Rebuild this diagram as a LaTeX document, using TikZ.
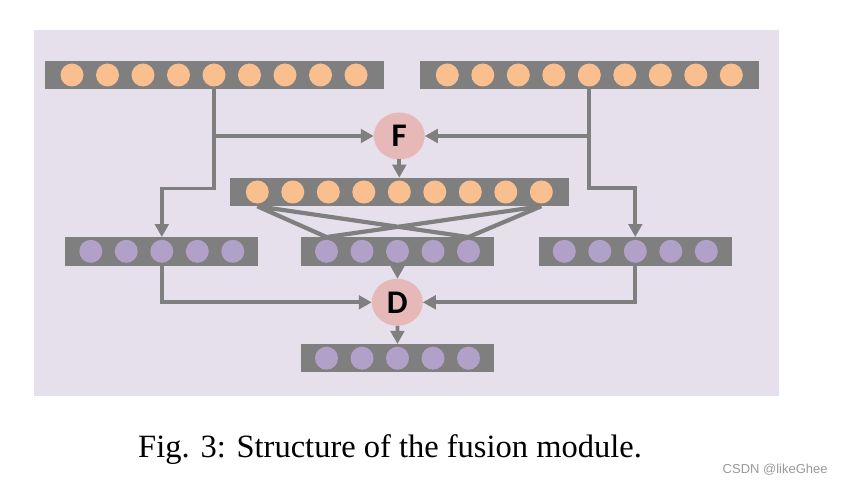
\documentclass[tikz,border=0pt]{standalone}
\usepackage{fontspec}
\setmainfont{Liberation Serif}
\newfontfamily\opfont{Carlito}
\newfontfamily\wmfont{Liberation Sans}
\usetikzlibrary{arrows.meta,positioning,shapes.geometric}
\definecolor{bgcol}{HTML}{E5E0EC}
\definecolor{barcol}{HTML}{7F7F7F}
\definecolor{orgcol}{HTML}{F9BF8F}
\definecolor{prpcol}{HTML}{B1A0C7}
\definecolor{opcol}{HTML}{E6B9B8}

\begin{document}
\begin{tikzpicture}[
x=1pt, y=-1pt,
node distance=12.5pt,
  bar/.style = {rectangle, fill=barcol,% gray strip behind the dots
                minimum height=28.5pt, inner sep=0pt, outer sep=0pt},
  dot/.style = {circle, minimum size=23pt,% one feature
                inner sep=0pt, outer sep=0pt},
   op/.style = {ellipse, fill=opcol, minimum width=51pt, minimum height=47pt,
                inner sep=0pt, outer sep=0pt, font=\opfont\bfseries\fontsize{33}{33}\selectfont},
 link/.style = {draw=barcol, line width=3.8pt,
                -{Triangle[width=13.5pt,length=13pt]}},
cross/.style = {draw=barcol, line width=4.2pt},
                    ]
\useasboundingbox (0,0) rectangle (841,484);
\fill[bgcol] (34,30) rectangle (779,396);
% strips of dots: name/x/y/count/colour
\foreach \nm/\cx/\cy/\n/\col in {TL/214/75/9/orgcol, TR/589.3/75/9/orgcol,
                                 M/399.3/192/9/orgcol, PL/161.8/251.3/5/prpcol,
                                 PM/397.5/251.3/5/prpcol, PR/635.3/251.3/5/prpcol,
                                 B/397.5/358.2/5/prpcol}{
    \node[bar, minimum width={(\n-1)*35.5+46+\n}] (\nm) at (\cx,\cy) {};
    \node[dot, fill=\col] (\nm-1) at ({\cx-(\n-1)*17.75},\cy) {};
    \foreach \i [remember=\i as \j (initially 1)] in {2,...,\n}% <-- rest of the dots
        \node[dot, fill=\col, right=of \nm-\j] (\nm-\i) {};
}
\node[op] (F) at (399.3,136) {F};
\node[op] (D) at (397.3,302.3) {D};
% fusion
\draw[link] (TL.south) -- ++(0,99.3) -| (PL.north);
\draw[link] (TR.south) -- ++(0,98.7) -| (PR.north);
\draw[link] (TL.south |- F) -- (F);
\draw[link] (TR.south |- F) -- (F);
\draw[link] (F) -- (M.north);
% crossing
\draw[cross] (M-1 |- M.south) -- (PM-1 |- PM.north)
             (M-1 |- M.south) -- (PM-5 |- PM.north)
             (M-9 |- M.south) -- (PM-1 |- PM.north)
             (M-9 |- M.south) -- (PM-5 |- PM.north);
% decision
\draw[link] (PM.south) -- (D);
\draw[link] (PL.south) |- (D);
\draw[link] (PR.south) |- (D);
\draw[link] (D) -- (B.north);
\node[anchor=base west, font=\fontsize{32.5}{32.5}\selectfont, inner sep=0pt] (cap)
    at (138,457) {Fig. 3: Structure of the fusion module.};
\node[anchor=west, font=\wmfont\fontsize{13}{13}\selectfont, text=black!40, inner sep=0pt] (wm)
    at (722.5,470) {CSDN @likeGhee};
\end{tikzpicture}
\end{document}
